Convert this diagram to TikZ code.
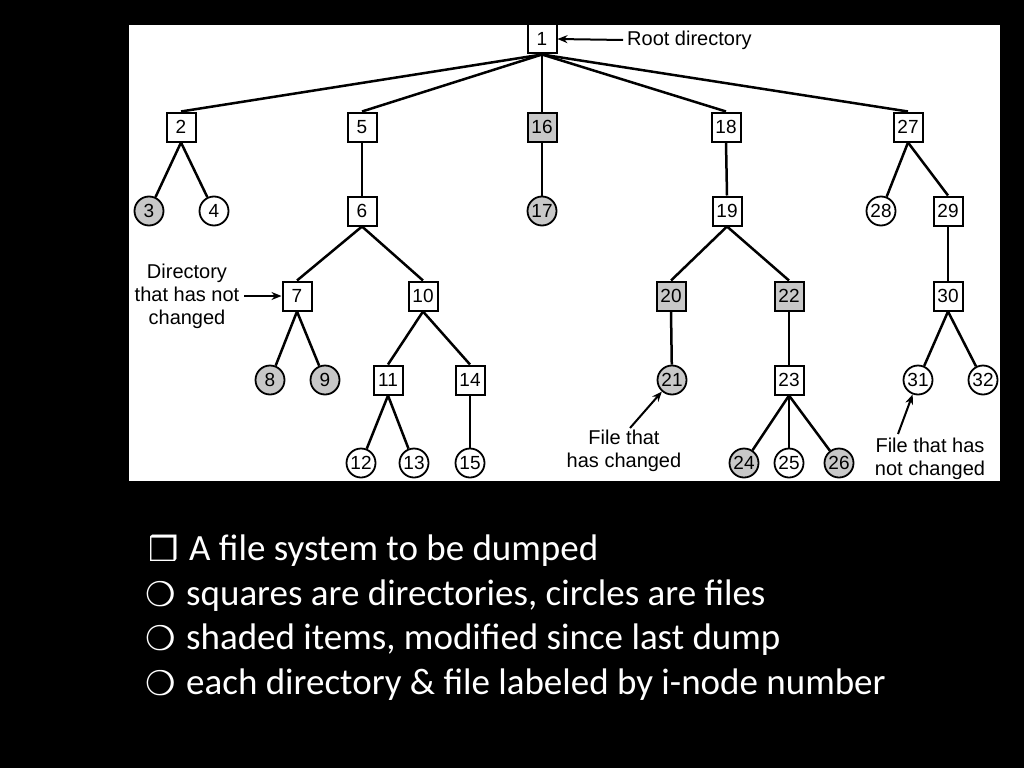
\documentclass[tikz,border=0pt]{standalone}
\usepackage{fontspec}
\setmainfont{Liberation Sans}
\newfontfamily\bodyfont{Carlito}
\newfontfamily\symfont{DejaVu Sans}
\usetikzlibrary{arrows.meta}
\definecolor{chgray}{RGB}{200,200,200}
\begin{document}
\begin{tikzpicture}[x=1pt,y=-1pt,
 dirbox/.style={draw,line width=2pt,minimum width=29pt,minimum height=29pt,inner sep=0pt,font=\fontsize{19}{19}\selectfont,fill=white},
 filecirc/.style={draw,circle,line width=1.8pt,minimum size=29pt,inner sep=0pt,font=\fontsize{19}{19}\selectfont,fill=white},
 chg/.style={fill=chgray},
 edge/.style={line width=2.5pt},
 note/.style={font=\fontsize{20}{23}\selectfont,align=center,inner sep=0pt},
 pointer/.style={line width=2pt,-{Stealth[length=10pt,width=8pt]}},
 bul/.style={anchor=base west,text=white,font=\symfont\fontsize{34}{34}\selectfont,inner sep=0pt},
 btext/.style={anchor=base west,text=white,font=\bodyfont\fontsize{37}{37}\selectfont,inner sep=0pt}
]
\fill[black] (0,0) rectangle (1024,768);
\useasboundingbox (0,0) rectangle (1024,768);
\fill[white] (129,25) rectangle (1000,481);

% level 1
\node[dirbox] (n1) at (542,39) {1};
% level 2
\node[dirbox] (n2) at (181,127) {2};
\node[dirbox] (n5) at (362,127) {5};
\node[dirbox,chg] (n16) at (542,127) {16};
\node[dirbox] (n18) at (726,127) {18};
\node[dirbox] (n27) at (908,127) {27};
% level 3
\node[filecirc,chg] (n3) at (149,211) {3};
\node[filecirc] (n4) at (214,211) {4};
\node[dirbox] (n6) at (362,211) {6};
\node[filecirc,chg] (n17) at (542,211) {17};
\node[dirbox] (n19) at (727,211) {19};
\node[filecirc] (n28) at (881,211) {28};
\node[dirbox] (n29) at (948,211) {29};
% level 4
\node[dirbox] (n7) at (297,296) {7};
\node[dirbox] (n10) at (423,296) {10};
\node[dirbox,chg] (n20) at (671,296) {20};
\node[dirbox,chg] (n22) at (789,296) {22};
\node[dirbox] (n30) at (948,296) {30};
% level 5
\node[filecirc,chg] (n8) at (270,380) {8};
\node[filecirc,chg] (n9) at (325,380) {9};
\node[dirbox] (n11) at (388,380) {11};
\node[dirbox] (n14) at (470,380) {14};
\node[filecirc,chg] (n21) at (672,380) {21};
\node[dirbox] (n23) at (789,380) {23};
\node[filecirc] (n31) at (918,380) {31};
\node[filecirc] (n32) at (983,380) {32};
% level 6
\node[filecirc] (n12) at (361,463) {12};
\node[filecirc] (n13) at (414,463) {13};
\node[filecirc] (n15) at (470,463) {15};
\node[filecirc,chg] (n24) at (744,463) {24};
\node[filecirc] (n25) at (789,463) {25};
\node[filecirc,chg] (n26) at (839,463) {26};

% edges
\foreach \c in {n2,n5,n16,n18,n27} \draw[edge] (n1.south) -- (\c.north);
\draw[edge] (n2.south) -- (n3);
\draw[edge] (n2.south) -- (n4);
\draw[edge] (n5.south) -- (n6.north);
\draw[edge] (n16.south) -- (n17);
\draw[edge] (n18.south) -- (n19.north);
\draw[edge] (n27.south) -- (n28);
\draw[edge] (n27.south) -- (n29.north);
\draw[edge] (n6.south) -- (n7.north);
\draw[edge] (n6.south) -- (n10.north);
\draw[edge] (n19.south) -- (n20.north);
\draw[edge] (n19.south) -- (n22.north);
\draw[edge] (n29.south) -- (n30.north);
\draw[edge] (n7.south) -- (n8);
\draw[edge] (n7.south) -- (n9);
\draw[edge] (n10.south) -- (n11.north);
\draw[edge] (n10.south) -- (n14.north);
\draw[edge] (n20.south) -- (n21);
\draw[edge] (n22.south) -- (n23.north);
\draw[edge] (n30.south) -- (n31);
\draw[edge] (n30.south) -- (n32);
\draw[edge] (n11.south) -- (n12);
\draw[edge] (n11.south) -- (n13);
\draw[edge] (n14.south) -- (n15);
\draw[edge] (n23.south) -- (n24);
\draw[edge] (n23.south) -- (n25);
\draw[edge] (n23.south) -- (n26);

% annotations
\node[note,anchor=west] (lroot) at (627,40) {Root directory};
\draw[pointer] (lroot.west) ++(-4,0) coordinate (aroot) -- (n1.east);
\node[note] (ldir) at (187,296) {Directory\\that has not\\changed};
\coordinate (adir) at (244,296);
\draw[pointer] (adir) -- (n7.west);
\node[note] (lchg) at (624,451) {File that\\has changed};
\coordinate (achg) at (630,428);
\draw[pointer] (achg) -- (n21);
\node[note] (lnochg) at (930,459) {File that has\\not changed};
\coordinate (anochg) at (898,434);
\draw[pointer] (anochg) -- (n31);

% bullet text
\node[bul] (b1) at (148,561) {❒};
\node[btext] (t1) at (189,560) {A file system to be dumped};
\node[bul] (b2) at (145,606) {❍};
\node[btext] (t2) at (186,605) {squares are directories, circles are files};
\node[bul] (b3) at (145,650) {❍};
\node[btext] (t3) at (186,649) {shaded items, modified since last dump};
\node[bul] (b4) at (145,695) {❍};
\node[btext] (t4) at (186,694) {each directory \& file labeled by i-node number};
\end{tikzpicture}
\end{document}
